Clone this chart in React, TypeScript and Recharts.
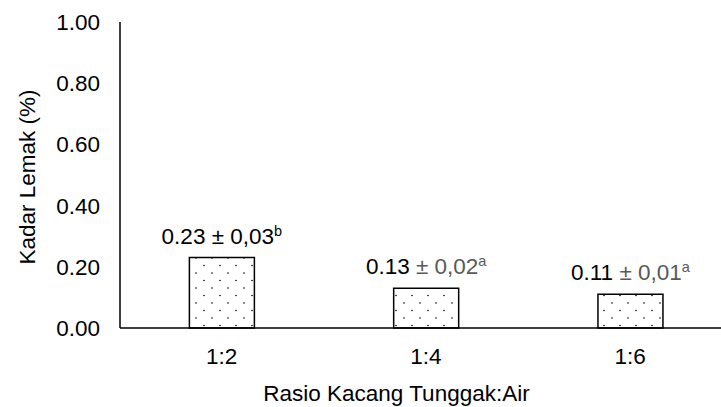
import React from 'react';
import { BarChart, Bar, XAxis, YAxis, LabelList, Label } from 'recharts';

const categories = ['1:2', '1:4', '1:6'];
const means = [0.23, 0.13, 0.11];
const meanLabels = ['0.23', '0.13', '0.11'];
const sdLabels = ['0,03', '0,02', '0,01'];
const letters = ['b', 'a', 'a'];
const yTicks = [0, 0.2, 0.4, 0.6, 0.8, 1.0];

const data = categories.map((c, i) => ({ pos: i, cat: c, value: means[i] }));

const FONT = '"Liberation Sans", Arial, Helvetica, sans-serif';
const FS = 22.5;
const pmColor = ['#000000', '#595959', '#595959'];

const ValueLabel = (props: any) => {
  const { x, y, width, index } = props;
  const cx = Number(x) + Number(width) / 2;
  const ty = Number(y) - 14;
  return (
    <text x={cx} y={ty} textAnchor="middle" fontFamily={FONT} fontSize={FS} fill="#000">
      <tspan fill="#000">{meanLabels[index]}</tspan>
      <tspan fill={pmColor[index]}>{' \u00B1 ' + sdLabels[index]}</tspan>
      <tspan fill={pmColor[index]} fontSize={14.5} dy={-8}>{letters[index]}</tspan>
    </text>
  );
};

const YTitle = (props: any) => {
  const vb = props.viewBox || { x: 0, y: 22, width: 120, height: 306 };
  const cx = vb.x + 27;
  const cy = vb.y + vb.height / 2 + 2;
  return (
    <text
      x={cx}
      y={cy}
      transform={`rotate(-90, ${cx}, ${cy})`}
      textAnchor="middle"
      dominantBaseline="central"
      fontFamily={FONT}
      fontSize={FS}
      fill="#000"
    >
      Kadar Lemak (%)
    </text>
  );
};

const XTitle = (props: any) => {
  const vb = props.viewBox || { x: 120, y: 328, width: 601, height: 79 };
  const cx = vb.x + vb.width / 2 - 24;
  const cy = vb.y + 73;
  return (
    <text x={cx} y={cy} textAnchor="middle" fontFamily={FONT} fontSize={FS} fill="#000">
      Rasio Kacang Tunggak:Air
    </text>
  );
};

export default function App() {
  return (
    <div style={{ position: 'fixed', left: 0, top: 0, width: 721, height: 407, background: '#fff' }}>
      <svg width={0} height={0} style={{ position: 'absolute' }}>
        <defs>
          <pattern id="dots" patternUnits="userSpaceOnUse" width={16} height={15}>
            <rect x={0} y={0} width={16} height={15} fill="#fff" />
            <circle cx={4} cy={3} r={0.8} fill="#000" />
            <circle cx={12} cy={10.5} r={0.8} fill="#000" />
          </pattern>
        </defs>
      </svg>
      <BarChart
        width={721}
        height={407}
        data={data}
        margin={{ top: 22, right: 0, left: 0, bottom: 0 }}
      >
        <XAxis
          dataKey="pos"
          type="number"
          domain={[-0.497, 2.445]}
          ticks={[0, 1, 2]}
          tickFormatter={(v: number) => categories[v] ?? ''}
          allowDataOverflow
          height={79}
          tickLine={false}
          tickSize={0}
          tickMargin={20}
          axisLine={{ stroke: '#000', strokeWidth: 1.5 }}
          tick={{ fill: '#000', fontSize: FS, fontFamily: FONT }}
        >
          <Label content={<XTitle />} />
        </XAxis>
        <YAxis
          domain={[0, 1]}
          ticks={yTicks}
          width={120}
          tickLine={false}
          tickSize={0}
          tickMargin={20}
          tickFormatter={(v: number) => v.toFixed(2)}
          axisLine={{ stroke: '#000', strokeWidth: 1.5 }}
          tick={{ fill: '#000', fontSize: FS, fontFamily: FONT }}
          interval={0}
        >
          <Label content={<YTitle />} />
        </YAxis>
        <Bar
          dataKey="value"
          barSize={65}
          fill="url(#dots)"
          stroke="#000"
          strokeWidth={1.5}
          isAnimationActive={false}
        >
          <LabelList dataKey="value" content={<ValueLabel />} />
        </Bar>
      </BarChart>
    </div>
  );
}
